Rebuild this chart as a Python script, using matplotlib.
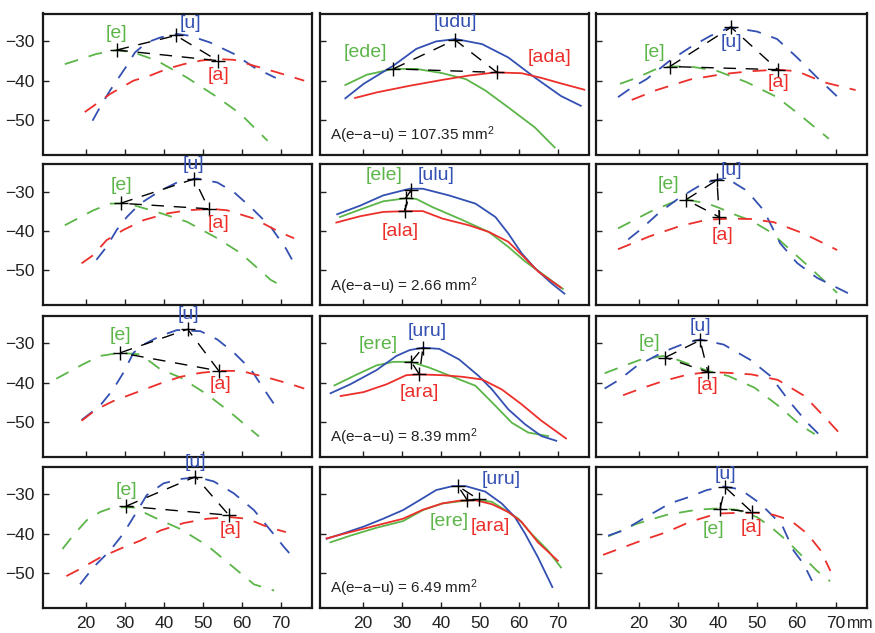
import matplotlib
matplotlib.use("Agg")
import matplotlib.pyplot as plt

plt.rcParams["font.family"] = ["Liberation Sans", "DejaVu Sans"]
plt.rcParams["mathtext.fontset"] = "custom"
plt.rcParams["mathtext.rm"] = "Liberation Sans"
plt.rcParams["mathtext.it"] = "Liberation Sans:italic"
plt.rcParams["lines.scale_dashes"] = False

# ---- tongue contours (x: mm, y: mm), one list of (x, y) points per vowel ----
# row 1
r1c1_e = [(14.6, -35.8), (22.7, -33.2), (27.9, -32.2), (32.2, -32.8), (38.2, -34.9), (45.9, -39.2), (53.7, -44.2), (59.7, -48.5), (66.6, -55.3)]
r1c1_u = [(21.7, -50.2), (23.6, -46.8), (26.2, -42.5), (27.9, -40.0), (30.5, -36.2), (32.6, -32.8), (35.6, -30.3), (39.1, -29.0), (43.4, -28.1), (46.8, -28.6), (51.9, -30.3), (58.0, -33.2), (63.1, -36.6), (68.7, -39.3)]
r1c1_a = [(19.7, -48.0), (22.7, -45.9), (26.2, -43.4), (32.2, -40.0), (36.5, -38.7), (40.8, -37.0), (45.1, -35.8), (49.4, -34.9), (53.7, -34.5), (58.0, -34.7), (63.1, -36.2), (69.1, -37.9), (76.0, -40.0)]
r1c1_pts = [(27.9, -32.2), (43.1, -28.5), (53.8, -34.9)]

r1c2_e = [(15.5, -41.1), (21.0, -38.5), (27.8, -37.0), (33.7, -37.0), (40.4, -38.1), (46.4, -39.6), (51.4, -42.5), (57.3, -46.8), (64.1, -51.9), (69.2, -57.0)]
r1c2_u = [(15.5, -44.5), (20.2, -40.8), (27.8, -36.2), (33.7, -31.9), (38.8, -30.0), (43.8, -29.4), (50.6, -30.7), (57.3, -34.1), (64.1, -39.2), (70.8, -43.9), (75.9, -46.4)]
r1c2_a = [(18.0, -44.4), (23.5, -43.0), (32.0, -41.3), (40.4, -39.8), (47.2, -38.7), (54.0, -37.9), (60.7, -38.1), (65.8, -39.3), (70.8, -40.7), (76.8, -42.3)]
r1c2_pts = [(27.8, -37.0), (43.6, -29.6), (54.4, -37.9)]

r1c3_e = [(15.1, -40.8), (19.3, -39.3), (24.4, -37.0), (27.8, -36.4), (33.0, -36.4), (39.8, -37.5), (47.4, -40.4), (55.1, -44.2), (61.1, -48.9), (68.3, -54.8)]
r1c3_u = [(14.6, -44.2), (17.6, -42.1), (21.9, -39.6), (27.8, -34.9), (33.0, -31.5), (38.1, -28.6), (43.2, -26.4), (50.0, -27.5), (55.1, -29.4), (60.2, -34.1), (65.3, -39.2), (70.8, -44.4)]
r1c3_a = [(18.1, -44.9), (24.4, -42.4), (33.0, -39.7), (41.5, -38.3), (48.3, -37.6), (55.1, -37.2), (60.2, -37.6), (67.0, -40.4), (75.1, -42.4)]
r1c3_pts = [(27.8, -36.4), (43.4, -26.4), (55.3, -37.2)]

# row 2
r2c1_e = [(14.6, -38.5), (21.9, -34.7), (26.2, -33.0), (30.5, -32.9), (38.2, -35.1), (45.9, -37.6), (53.7, -41.8), (59.7, -45.6), (67.4, -52.4), (71.3, -54.5)]
r2c1_u = [(22.7, -47.3), (25.3, -44.0), (27.9, -39.7), (30.5, -36.4), (33.9, -33.0), (39.1, -29.7), (43.4, -27.6), (48.5, -26.6), (53.7, -27.6), (58.0, -30.1), (62.3, -33.9), (67.4, -38.9), (71.3, -44.4), (73.4, -48.2)]
r2c1_a = [(18.9, -48.2), (21.9, -46.1), (25.3, -42.3), (29.6, -39.7), (34.8, -37.2), (40.8, -35.5), (45.9, -34.7), (52.0, -34.3), (56.3, -34.7), (63.1, -36.8), (70.0, -40.4), (73.4, -41.8)]
r2c1_pts = [(28.9, -32.9), (47.8, -26.7), (51.5, -34.3)]

r2c2_e = [(14.1, -36.4), (19.3, -34.5), (25.2, -32.4), (31.2, -31.6), (33.7, -31.8), (37.9, -33.9), (44.7, -36.8), (52.3, -40.2), (57.3, -44.0), (61.6, -47.7), (65.8, -50.7), (71.3, -54.7)]
r2c2_u = [(13.4, -35.7), (19.3, -33.5), (25.2, -30.9), (32.0, -29.2), (35.4, -29.2), (42.1, -30.9), (48.9, -33.0), (54.0, -36.4), (57.3, -40.6), (60.7, -45.6), (64.1, -49.4), (68.3, -53.2), (71.7, -55.9)]
r2c2_a = [(13.2, -37.8), (19.3, -36.2), (25.2, -35.1), (31.2, -34.9), (35.4, -34.9), (40.4, -36.8), (47.2, -38.5), (52.3, -40.2), (57.3, -42.7), (60.7, -46.0), (65.0, -50.3), (70.8, -54.4)]
r2c2_pts = [(31.0, -31.6), (32.4, -29.5), (30.7, -34.9)]

r2c3_e = [(14.6, -39.3), (22.7, -35.1), (29.6, -32.2), (32.1, -32.0), (37.2, -32.9), (40.2, -34.0), (44.9, -36.0), (48.3, -37.2), (53.4, -40.2), (58.5, -44.8), (63.6, -49.4), (70.4, -55.7)]
r2c3_u = [(17.2, -42.1), (20.2, -39.7), (25.3, -35.1), (30.4, -31.4), (36.4, -27.8), (40.6, -26.7), (44.0, -27.6), (47.4, -29.7), (51.7, -34.7), (55.9, -43.1), (60.2, -48.1), (65.3, -51.9), (73.8, -56.1)]
r2c3_a = [(14.6, -44.6), (22.7, -41.3), (30.4, -38.7), (37.2, -37.1), (43.2, -36.8), (48.3, -36.9), (54.2, -37.7), (61.9, -40.6), (70.4, -44.8)]
r2c3_pts = [(31.9, -32.0), (39.8, -27.0), (40.4, -36.4)]

# row 3
r3c1_e = [(12.4, -39.0), (19.3, -35.3), (23.6, -33.2), (28.8, -32.4), (34.0, -32.8), (39.1, -36.6), (44.3, -38.7), (51.1, -43.0), (57.1, -47.6), (64.4, -53.7)]
r3c1_u = [(18.9, -49.5), (23.6, -45.9), (27.0, -41.7), (29.6, -37.5), (32.2, -32.4), (34.8, -30.3), (39.1, -28.1), (43.4, -26.6), (49.4, -26.9), (53.7, -29.0), (58.0, -32.4), (62.3, -36.6), (65.7, -41.7), (68.3, -45.5)]
r3c1_a = [(18.9, -49.7), (22.7, -46.8), (27.0, -44.7), (34.0, -42.1), (39.1, -40.2), (44.3, -38.5), (49.4, -37.5), (54.5, -37.0), (59.7, -37.0), (66.6, -38.7), (72.6, -40.4), (76.0, -41.5)]
r3c1_pts = [(28.8, -32.4), (46.1, -26.4), (54.1, -37.0)]

r3c2_e = [(12.7, -40.7), (18.5, -37.9), (23.5, -35.6), (27.8, -34.7), (32.4, -34.7), (37.1, -36.2), (43.0, -38.5), (48.9, -40.8), (54.0, -45.9), (58.2, -50.2), (62.4, -52.7), (67.5, -53.6)]
r3c2_u = [(11.7, -42.7), (16.8, -40.4), (23.5, -36.8), (28.6, -33.2), (32.0, -31.7), (35.4, -31.1), (39.6, -31.4), (44.7, -34.1), (49.7, -38.3), (53.1, -41.7), (57.3, -46.8), (61.6, -50.6), (65.8, -53.6), (69.6, -54.8)]
r3c2_a = [(14.3, -43.4), (20.2, -42.4), (26.1, -40.4), (31.1, -38.1), (34.5, -37.9), (40.4, -38.1), (45.5, -38.5), (50.6, -39.2), (55.6, -41.7), (60.7, -45.5), (65.8, -49.7), (72.1, -54.2)]
r3c2_pts = [(32.4, -34.7), (35.4, -31.1), (34.5, -37.9)]

r3c3_e = [(11.2, -37.6), (15.9, -35.8), (20.2, -34.2), (26.1, -33.2), (29.5, -34.1), (34.1, -35.8), (37.5, -37.0), (42.7, -38.3), (49.4, -41.3), (55.3, -45.8), (61.3, -51.0), (64.7, -53.1)]
r3c3_u = [(11.2, -41.5), (15.0, -39.2), (19.3, -35.8), (24.4, -33.1), (27.8, -31.5), (32.1, -29.8), (35.5, -29.0), (41.5, -30.3), (48.3, -34.2), (53.4, -38.3), (58.5, -45.1), (62.8, -50.2), (66.2, -53.6)]
r3c3_a = [(15.9, -43.2), (21.0, -41.3), (26.1, -39.6), (32.1, -38.0), (37.5, -37.3), (42.7, -37.5), (48.6, -37.9), (55.3, -39.3), (62.1, -43.4), (68.1, -49.7), (72.4, -54.4)]
r3c3_pts = [(26.6, -33.6), (35.5, -29.2), (37.5, -37.3)]

# row 4
r4c1_e = [(14.0, -43.9), (16.7, -40.5), (20.2, -36.6), (23.6, -34.5), (27.0, -33.3), (32.2, -33.3), (37.4, -35.8), (44.2, -38.8), (51.1, -43.0), (57.9, -48.6), (63.1, -52.9), (68.3, -54.5)]
r4c1_u = [(18.5, -52.9), (21.9, -48.6), (26.2, -44.3), (29.6, -40.0), (32.2, -35.8), (35.6, -30.2), (39.9, -27.2), (44.2, -26.1), (48.5, -25.6), (52.8, -26.7), (57.9, -29.7), (63.1, -34.0), (67.4, -39.2), (70.9, -43.5), (73.9, -46.9)]
r4c1_a = [(15.0, -50.8), (18.5, -49.0), (23.6, -46.1), (29.6, -43.5), (33.9, -41.8), (39.1, -39.2), (45.1, -37.3), (51.1, -36.2), (57.1, -35.8), (61.4, -36.2), (66.6, -38.3), (71.3, -39.6)]
r4c1_pts = [(30.3, -33.0), (48.1, -25.5), (56.7, -35.3)]

r4c2_e = [(11.7, -42.2), (16.8, -40.5), (23.5, -38.5), (30.3, -36.8), (35.4, -34.0), (40.4, -32.3), (43.8, -31.9), (48.9, -31.3), (53.1, -31.9), (56.5, -34.0), (59.9, -36.2), (63.2, -40.0), (67.5, -44.3), (70.8, -48.6)]
r4c2_u = [(10.7, -41.3), (15.1, -39.9), (20.2, -38.2), (25.2, -36.2), (30.3, -34.0), (34.5, -31.5), (38.8, -28.9), (43.0, -27.9), (46.4, -27.9), (51.4, -29.3), (55.6, -32.3), (59.0, -35.8), (61.6, -40.0), (64.9, -46.0), (68.6, -53.6)]
r4c2_a = [(10.7, -41.2), (16.8, -39.6), (23.5, -37.9), (30.3, -36.2), (35.4, -33.9), (40.4, -32.3), (44.7, -31.6), (48.9, -31.5), (53.1, -32.5), (57.3, -34.5), (60.7, -37.0), (64.9, -42.2), (70.0, -46.9)]
r4c2_pts = [(46.8, -31.5), (44.4, -27.9), (49.7, -31.3)]

r4c3_e = [(12.1, -40.7), (19.3, -37.5), (27.0, -35.2), (34.7, -33.9), (39.8, -33.6), (44.9, -33.9), (50.0, -35.8), (53.4, -38.2), (57.6, -41.8), (61.9, -46.1), (65.3, -49.5), (68.6, -52.1)]
r4c3_u = [(12.1, -40.5), (15.9, -39.2), (21.0, -36.2), (27.8, -32.3), (32.9, -30.6), (37.2, -28.9), (41.5, -28.0), (45.7, -28.7), (50.8, -32.3), (53.4, -34.9), (56.4, -37.9), (59.3, -44.3), (61.9, -47.8), (64.0, -52.0)]
r4c3_a = [(10.8, -45.4), (15.9, -43.5), (20.2, -41.9), (27.0, -39.6), (32.9, -37.0), (39.8, -34.9), (44.9, -34.7), (50.0, -34.7), (54.2, -35.2), (58.5, -36.6), (62.8, -40.0), (66.2, -44.3), (68.7, -49.5)]
r4c3_pts = [(40.6, -33.6), (41.9, -28.2), (48.7, -34.5)]

# triangle areas for the coarticulated (middle) column, mm^2
areas = [107.35, 2.66, 8.39, 6.49]

# vowel labels: isolated vowels (outer columns) and VCV words (middle column)
vowel_labels = ["[e]", "[u]", "[a]"]
word_labels = [
    ["[ede]", "[udu]", "[ada]"],
    ["[ele]", "[ulu]", "[ala]"],
    ["[ere]", "[uru]", "[ara]"],
    ["[ere]", "[uru]", "[ara]"],
]

x_ticks = [20, 30, 40, 50, 60, 70]
y_ticks = [-50, -40, -30]
x_unit = "mm"

# ---- layout ----
FIG_W, FIG_H = 875, 633
col_left = [43, 320, 596]
col_width = [269, 269, 271]
row_top = [13.5, 164, 315.5, 466.5]
row_height = 141
XLIM = (9, 78)
YLIM = (-58.8, -22.9)

COL_E = "#5cb548"
COL_U = "#3350b2"
COL_A = "#ec2f2a"

# label anchor (x, y) for e, u, a in each panel
label_pos = {
    (0, 0): [(27.9, -28.1), (46.8, -25.4), (54.1, -38.7)],
    (0, 1): [(20.6, -32.8), (43.8, -25.2), (67.9, -34.2)],
    (0, 2): [(24.0, -32.8), (43.6, -30.3), (55.5, -40.4)],
    (1, 0): [(29.2, -28.4), (47.7, -22.9), (54.1, -38.1)],
    (1, 1): [(25.4, -25.9), (38.8, -25.9), (29.5, -40.2)],
    (1, 2): [(27.4, -28.0), (43.4, -24.6), (41.1, -41.0)],
    (2, 0): [(28.9, -28.1), (46.4, -22.6), (54.5, -40.4)],
    (2, 1): [(24.0, -30.3), (36.6, -26.9), (34.5, -42.4)],
    (2, 2): [(22.7, -29.7), (35.5, -25.6), (37.5, -40.8)],
    (3, 0): [(30.5, -29.1), (48.1, -21.8), (57.1, -39.0)],
    (3, 1): [(42.1, -37.0), (55.6, -26.1), (52.7, -38.3)],
    (3, 2): [(38.9, -39.0), (41.9, -25.0), (48.7, -38.5)],
}

panels = {
    (0, 0): (r1c1_e, r1c1_u, r1c1_a, r1c1_pts),
    (0, 1): (r1c2_e, r1c2_u, r1c2_a, r1c2_pts),
    (0, 2): (r1c3_e, r1c3_u, r1c3_a, r1c3_pts),
    (1, 0): (r2c1_e, r2c1_u, r2c1_a, r2c1_pts),
    (1, 1): (r2c2_e, r2c2_u, r2c2_a, r2c2_pts),
    (1, 2): (r2c3_e, r2c3_u, r2c3_a, r2c3_pts),
    (2, 0): (r3c1_e, r3c1_u, r3c1_a, r3c1_pts),
    (2, 1): (r3c2_e, r3c2_u, r3c2_a, r3c2_pts),
    (2, 2): (r3c3_e, r3c3_u, r3c3_a, r3c3_pts),
    (3, 0): (r4c1_e, r4c1_u, r4c1_a, r4c1_pts),
    (3, 1): (r4c2_e, r4c2_u, r4c2_a, r4c2_pts),
    (3, 2): (r4c3_e, r4c3_u, r4c3_a, r4c3_pts),
}

fig = plt.figure(figsize=(FIG_W / 100, FIG_H / 100), dpi=100)

for (r, c), (ce, cu, ca, pts) in panels.items():
    left = col_left[c] / FIG_W
    bottom = 1 - (row_top[r] + row_height) / FIG_H
    ax = fig.add_axes([left, bottom, col_width[c] / FIG_W, row_height / FIG_H])
    ax.set_xlim(*XLIM)
    ax.set_ylim(*YLIM)

    solid = (c == 1)
    style = dict(lw=1.3)
    if not solid:
        style.update(ls=(0, (10, 8)))
    for curve, col in ((ce, COL_E), (cu, COL_U), (ca, COL_A)):
        xs = [p[0] for p in curve]
        ys = [p[1] for p in curve]
        ax.plot(xs, ys, color=col, **style)

    # e - u - a triangle between the vowel targets
    tri_x = [pts[0][0], pts[1][0], pts[2][0], pts[0][0]]
    tri_y = [pts[0][1], pts[1][1], pts[2][1], pts[0][1]]
    ax.plot(tri_x, tri_y, color="black", lw=1.0, ls=(0, (9, 7)))
    ax.plot([p[0] for p in pts], [p[1] for p in pts], ls="none",
            marker="+", ms=10, mew=1.0, color="black")

    names = word_labels[r] if solid else vowel_labels
    for (lx, ly), name, col in zip(label_pos[(r, c)], names, (COL_E, COL_U, COL_A)):
        ax.text(lx, ly, name, color=col, fontsize=14, ha="center", va="center",
                clip_on=False)

    if solid:
        ax.text(0.037, 0.135, "A(e\u2212a\u2212u) = %.2f mm$^2$" % areas[r],
                transform=ax.transAxes, fontsize=11, ha="left", va="center",
                color="#222222")

    ax.set_xticks(x_ticks)
    ax.set_yticks(y_ticks)
    ax.tick_params(direction="in", length=4, width=1.0, labelsize=12.5,
                   colors="#222222", pad=6, top=False, right=False)
    if r != 3:
        ax.set_xticklabels([])
    if c != 0:
        ax.set_yticklabels([])
    for sp in ax.spines.values():
        sp.set_linewidth(1.6)
        sp.set_color("#1a1a1a")

fig.text(847 / FIG_W, 1 - 624 / FIG_H, x_unit, fontsize=11.5, ha="left",
         va="center", color="#222222")

fig.savefig("out.png", dpi=100)
